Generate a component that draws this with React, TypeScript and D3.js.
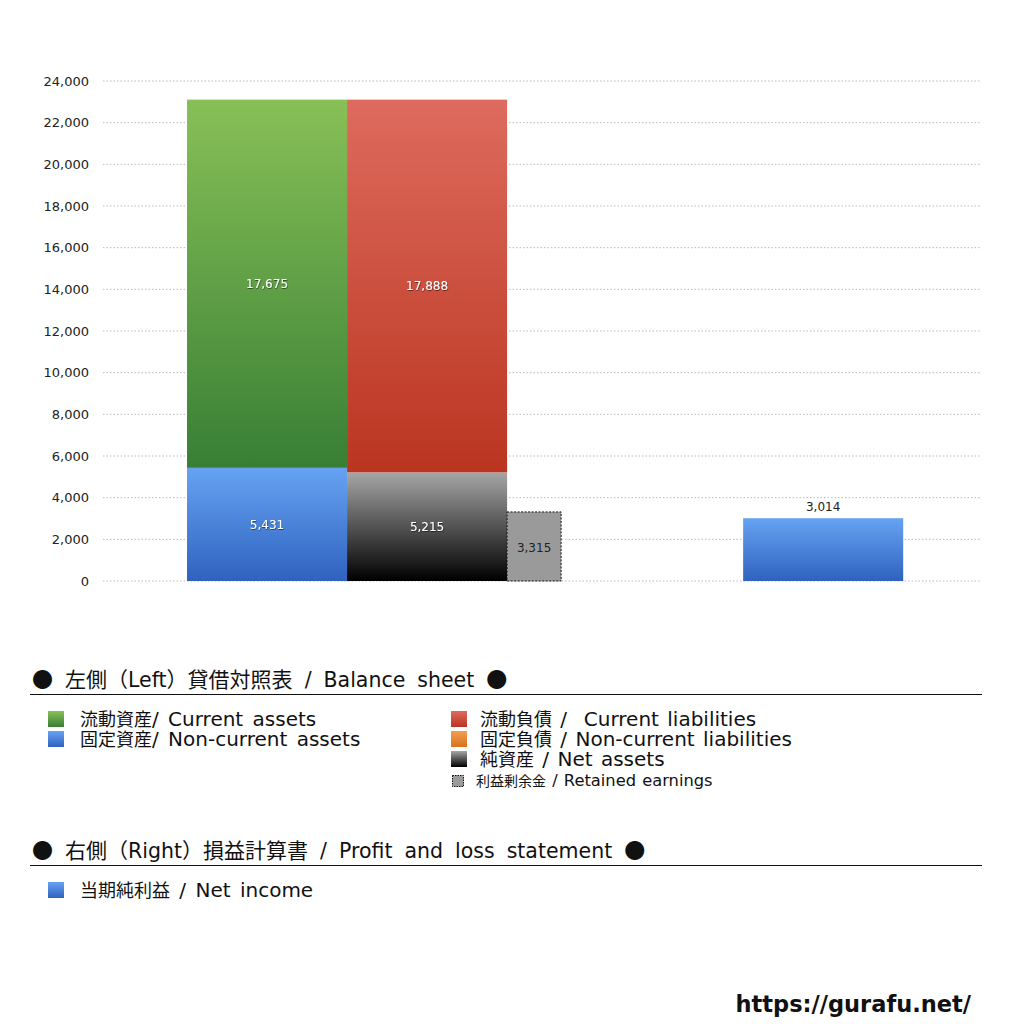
import React from "react";
import * as d3 from "d3";

// ---- data ----
const yTicks = [0, 2000, 4000, 6000, 8000, 10000, 12000, 14000, 16000, 18000, 20000, 22000, 24000];
const assetNames = ["固定資産", "流動資産"];
const assetValues = [5431, 17675];
const liabilityNames = ["純資産", "固定負債", "流動負債"];
const liabilityValues = [5215, 2, 17888];
const retainedName = "利益剰余金";
const retainedValue = 3315;
const plNames = ["当期純利益"];
const plValues = [3014];

const legendLeftA = ["流動資産/ Current assets", "固定資産/ Non-current assets"];
const legendLeftB = ["流動負債 /  Current liabilities", "固定負債 / Non-current liabilities", "純資産 / Net assets"];
const legendRetained = "利益剰余金 / Retained earnings";
const legendRight = ["当期純利益 / Net income"];
const heading1 = "● 左側（Left）貸借対照表 / Balance sheet ●";
const heading2 = "● 右側（Right）損益計算書 / Profit and loss statement ●";
const siteUrl = "https://gurafu.net/";

const FONT = "'DejaVu Sans', 'Noto Sans CJK JP', sans-serif";
const CJK_FONT = "'Noto Sans CJK JP', sans-serif";

const grads: Record<string, [string, string]> = {
  green: ["#88c057", "#387f35"],
  red: ["#de6b5e", "#ba3520"],
  blue: ["#66a3f2", "#2f62bf"],
  orange: ["#f0a050", "#d8721e"],
  black: ["#a6a6a6", "#000000"],
};

const CJK_RE = /([\u25CF\u3000-\u9fff\uff00-\uffef]+)/;

function MixedText({ text, x, y, cjk, latin, ws = 0 }: { text: string; x: number; y: number; cjk: number; latin: number; ws?: number }) {
  const parts = text.split(CJK_RE).filter((p) => p.length > 0);
  return (
    <text x={x} y={y} fill="#111" style={{ whiteSpace: "pre", wordSpacing: `${ws}px` }}>
      {parts.map((p, i) =>
        CJK_RE.test(p) ? (
          <tspan key={i} fontFamily={CJK_FONT} fontSize={cjk}>{p}</tspan>
        ) : (
          <tspan key={i} fontSize={latin}>{p}</tspan>
        )
      )}
    </text>
  );
}

export default function App() {
  const y = d3.scaleLinear().domain([0, 24000]).range([581, 81]);
  // x in "bar-width units"
  const x = d3.scaleLinear().domain([0, 5.48]).range([103, 980]);
  const barW = x(1) - x(0);

  const assetCum = d3.cumsum(assetValues);
  const liabCum = d3.cumsum(liabilityValues);
  const assetColors = ["blue", "green"];
  const liabColors = ["black", "orange", "red"];

  const fmt = d3.format(",");

  const assetX = x(0.525);
  const liabX = x(1.525);
  const retX = x(2.525);
  const retW = x(2.525 + 0.3375) - retX;
  const plX = x(4.0);

  return (
    <svg width={1024} height={1024} style={{ position: "absolute", left: 0, top: 0 }} fontFamily={FONT}>
      <defs>
        {Object.entries(grads).map(([k, [a, b]]) => (
          <linearGradient key={k} id={"g-" + k} x1="0" y1="0" x2="0" y2="1">
            <stop offset="0%" stopColor={a} />
            <stop offset="100%" stopColor={b} />
          </linearGradient>
        ))}
        <filter id="shadow" x="-20%" y="-20%" width="140%" height="140%">
          <feDropShadow dx="0.5" dy="0.8" stdDeviation="0.6" floodColor="#000" floodOpacity="0.6" />
        </filter>
      </defs>
      <rect width={1024} height={1024} fill="#fff" />

      {/* grid & y ticks */}
      {yTicks.map((t) => (
        <g key={t}>
          <line x1={103} x2={980} y1={y(t)} y2={y(t)} stroke="#bbb" strokeWidth={1} strokeDasharray="1.5,2" />
          <text x={89} y={y(t)} dy="0.35em" textAnchor="end" fontSize={13} fill="#222">
            {fmt(t)}
          </text>
        </g>
      ))}

      {/* assets stack */}
      {assetValues.map((v, i) => {
        const top = y(assetCum[i]);
        const bot = y(assetCum[i] - v);
        return (
          <g key={assetNames[i]}>
            <rect x={assetX} y={top} width={barW} height={bot - top} fill={`url(#g-${assetColors[i]})`} />
            <text x={assetX + barW / 2} y={(top + bot) / 2} dy="0.35em" textAnchor="middle" fontSize={12} fill="#fff" filter="url(#shadow)">
              {fmt(v)}
            </text>
          </g>
        );
      })}

      {/* liabilities + net assets stack */}
      {liabilityValues.map((v, i) => {
        const top = y(liabCum[i]);
        const bot = y(liabCum[i] - v);
        const small = bot - top < 12;
        return (
          <g key={liabilityNames[i]}>
            <rect x={liabX} y={top} width={barW} height={bot - top} fill={`url(#g-${liabColors[i]})`} />
            <text
              x={liabX + barW / 2}
              y={small ? top - 7 : (top + bot) / 2}
              dy="0.35em"
              textAnchor="middle"
              fontSize={12}
              fill="#fff"
              filter="url(#shadow)"
            >
              {fmt(v)}
            </text>
          </g>
        );
      })}

      {/* retained earnings */}
      <g key={retainedName}>
        <rect
          x={retX}
          y={y(retainedValue)}
          width={retW}
          height={y(0) - y(retainedValue)}
          fill="#9a9a9a"
          stroke="#111"
          strokeWidth={1}
          strokeDasharray="2,1.5"
        />
        <text x={retX + retW / 2} y={(y(retainedValue) + y(0)) / 2 + 1} dy="0.35em" textAnchor="middle" fontSize={12} fill="#222">
          {fmt(retainedValue)}
        </text>
      </g>

      {/* profit & loss */}
      {plValues.map((v, i) => (
        <g key={plNames[i]}>
          <rect x={plX} y={y(v)} width={barW} height={y(0) - y(v)} fill="url(#g-blue)" />
          <text x={plX + barW / 2} y={y(v) - 7} textAnchor="middle" fontSize={12} fill="#222">
            {fmt(v)}
          </text>
        </g>
      ))}

      {/* legend section 1 */}
      <MixedText text={heading1} x={32} y={687} cjk={21} latin={20.5} ws={5.5} />
      <line x1={30} x2={982} y1={694.5} y2={694.5} stroke="#111" strokeWidth={1} />
      {legendLeftA.map((t, i) => (
        <g key={t}>
          <rect x={48} y={711 + i * 20} width={16} height={16} fill={`url(#g-${["green", "blue"][i]})`} />
          <MixedText text={t} x={80} y={726 + i * 20} cjk={18} latin={20} ws={3} />
        </g>
      ))}
      {legendLeftB.map((t, i) => (
        <g key={t}>
          <rect x={451} y={711 + i * 20} width={16} height={16} fill={`url(#g-${["red", "orange", "black"][i]})`} />
          <MixedText text={t} x={480} y={726 + i * 20} cjk={18} latin={20} ws={2} />
        </g>
      ))}
      <rect x={452.5} y={775.5} width={11} height={11} fill="#9a9a9a" stroke="#111" strokeWidth={1} strokeDasharray="1.5,1" />
      <MixedText text={legendRetained} x={476} y={786} cjk={14} latin={16.3} ws={1} />

      {/* legend section 2 */}
      <MixedText text={heading2} x={32} y={858} cjk={21} latin={20.5} ws={5.5} />
      <line x1={30} x2={982} y1={865.5} y2={865.5} stroke="#111" strokeWidth={1} />
      {legendRight.map((t, i) => (
        <g key={t}>
          <rect x={48} y={882 + i * 20} width={16} height={16} fill="url(#g-blue)" />
          <MixedText text={t} x={80} y={897 + i * 20} cjk={18} latin={20} ws={3} />
        </g>
      ))}

      <text x={971} y={1012} textAnchor="end" fontSize={22.5} fontWeight="bold" fill="#111">{siteUrl}</text>
    </svg>
  );
}
